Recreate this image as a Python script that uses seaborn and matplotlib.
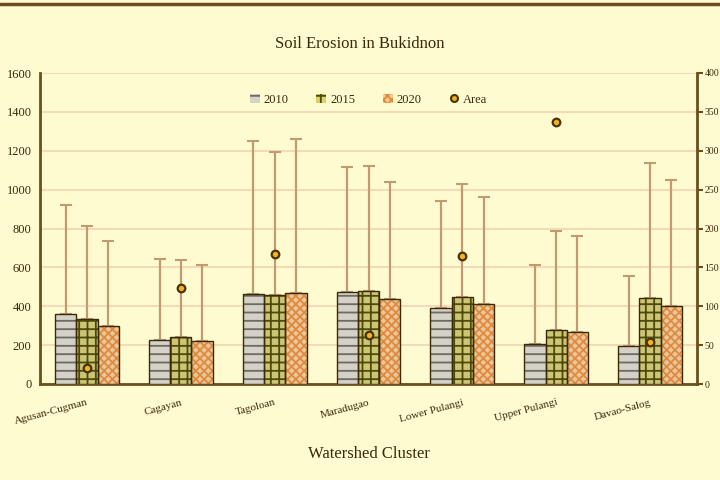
import numpy as np
import pandas as pd
import seaborn as sns
import matplotlib.pyplot as plt
from matplotlib.lines import Line2D
from matplotlib.patches import Patch

clusters = ['Agusan-Cugman', 'Cagayan', 'Tagoloan', 'Maradugao',
            'Lower Pulangi', 'Upper Pulangi', 'Davao-Salog']
years = ['2010', '2015', '2020']
erosion_2010 = [360, 226, 463, 473, 391, 206, 195]
erosion_2015 = [334, 242, 458, 478, 448, 278, 442]
erosion_2020 = [298, 221, 468, 437, 411, 267, 401]
upper_2010 = [921, 643, 1250, 1116, 941, 612, 556]
upper_2015 = [813, 638, 1194, 1121, 1029, 787, 1137]
upper_2020 = [736, 612, 1260, 1039, 962, 761, 1049]
area = [20, 123, 167, 63, 165, 337, 54]

bg = '#fffbd0'
brown = '#6b4e1e'
err_col = '#bf9a72'
txt = '#3a2a08'

df = pd.DataFrame({
    'Cluster': clusters * 3,
    'Year': np.repeat(years, len(clusters)),
    'Erosion': erosion_2010 + erosion_2015 + erosion_2020,
    'Upper': upper_2010 + upper_2015 + upper_2020,
})

sns.set_style('white')
plt.rcParams['font.family'] = ['Liberation Serif', 'DejaVu Serif']
plt.rcParams['hatch.linewidth'] = 1.3

fig = plt.figure(figsize=(7.2, 4.8), dpi=100, facecolor=bg)
ax = fig.add_axes([40 / 720, 96 / 480, 657 / 720, 311 / 480])
ax.set_facecolor(bg)

face = {'2010': '#d6d2c6', '2015': '#d9d266', '2020': '#f7c98a'}
hatch_col = {'2010': '#6e6a60', '2015': '#4e4a0c', '2020': '#e08a40'}
hatches = {'2010': '--', '2015': '++', '2020': 'xxxx'}

sns.barplot(data=df, x='Cluster', y='Erosion', hue='Year', palette=face,
            width=0.68, errorbar=None, ax=ax, legend=False, zorder=3)

for i, yr in enumerate(years):
    for j in range(len(clusters)):
        p = ax.patches[i * len(clusters) + j]
        p.set_hatch(hatches[yr])
        p.set_edgecolor(hatch_col[yr])
        p.set_linewidth(0)
        # dark outline drawn separately
        ax.add_patch(plt.Rectangle(p.get_xy(), p.get_width(), p.get_height(),
                                   fill=False, edgecolor='#3a2a08', lw=1.0, zorder=4))
        x = p.get_x() + p.get_width() / 2
        val = df.loc[(df.Year == yr) & (df.Cluster == clusters[j])]
        bar = val['Erosion'].iloc[0]
        up = val['Upper'].iloc[0]
        ax.errorbar(x, bar, yerr=[[0], [up - bar]], color=err_col, lw=1.6,
                    capsize=4, capthick=1.5, zorder=2)

ax.set_ylim(0, 1600)
ax.set_yticks(range(0, 1601, 200))
ax.yaxis.grid(True, color='#f5d4b4', lw=1.2, zorder=0)
ax.set_axisbelow(True)
ax.set_xlim(-0.5, len(clusters) - 0.5)
ax.set_ylabel('')
ax.set_xlabel('Watershed Cluster', fontsize=12, color=txt, labelpad=14)
ax.set_xticks(range(len(clusters)))
ax.set_xticklabels(clusters, rotation=15, ha='right', rotation_mode='anchor',
                   fontsize=8, color=txt)
ax.tick_params(axis='x', length=0, pad=10)
ax.tick_params(axis='y', length=0, labelsize=9, labelcolor=txt, pad=6)
for s in ['left', 'bottom', 'right']:
    ax.spines[s].set_color(brown)
    ax.spines[s].set_linewidth(2)
ax.spines['top'].set_visible(False)

ax2 = ax.twinx()
sns.scatterplot(x=np.arange(len(clusters)), y=area, ax=ax2, marker='o', s=30,
                color='#f2b41a', edgecolor='#4a3208', linewidth=1.6, zorder=5)
ax2.set_ylim(0, 400)
ax2.set_yticks(range(0, 401, 50))
ax2.tick_params(axis='y', length=4, width=1.5, color=brown, labelsize=7,
                labelcolor=txt, pad=1.5)
for s in ['left', 'bottom', 'right', 'top']:
    ax2.spines[s].set_visible(False)

handles = [Patch(facecolor=face[y], hatch=hatches[y], edgecolor=hatch_col[y], lw=0)
           for y in years]
handles.append(Line2D([], [], marker='o', ls='', markersize=5,
                      markerfacecolor='#f2b41a', markeredgecolor='#4a3208',
                      markeredgewidth=1.5))
ax2.legend(handles, years + ['Area'], loc='upper center', bbox_to_anchor=(0.5, 0.97),
           ncol=4, frameon=False, fontsize=9, handlelength=0.8, handleheight=0.8,
           columnspacing=2.2, handletextpad=0.3, labelcolor=txt)

fig.suptitle('Soil Erosion in Bukidnon', y=0.925, fontsize=12, color=txt)
fig.add_artist(Line2D([0, 1], [0.992, 0.992], color=brown, lw=2.5,
                      transform=fig.transFigure))

fig.savefig('out.png', dpi=100, facecolor=bg)
